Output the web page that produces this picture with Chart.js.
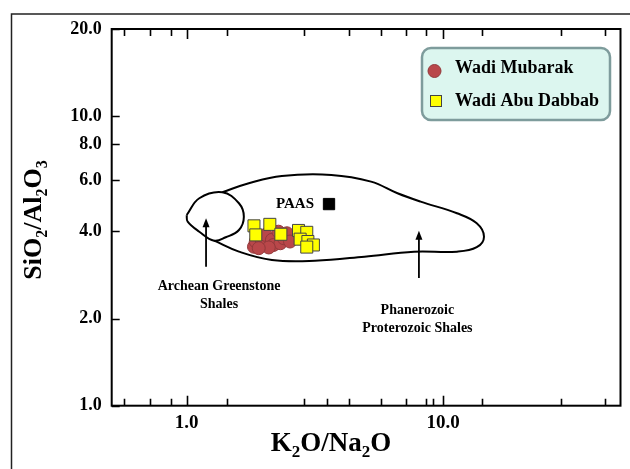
<!DOCTYPE html>
<html>
<head>
<meta charset="utf-8">
<script src="https://cdn.jsdelivr.net/npm/chart.js@4.4.1/dist/chart.umd.min.js"></script>
<style>
  body { margin: 0; background: #fff; }
  #c { display: block; }
</style>
</head>
<body>
<canvas id="c" width="630" height="469"></canvas>
<script>
// Wadi Mubarak (circles)
const mubarakX = [1.83, 1.86, 1.96, 2.03, 2.15, 2.18, 2.32, 2.39, 2.46, 2.53, 2.09, 1.91, 2.28]
const mubarakY = [3.54, 3.69, 3.74, 3.89, 3.74, 3.59, 3.64, 3.79, 3.94, 3.69, 3.52, 3.50, 3.99]
// Wadi Abu Dabbab (squares)
const dabbabX = [1.83, 1.86, 2.11, 2.33, 2.73, 2.94, 2.77, 2.97, 3.12, 2.94]
const dabbabY = [4.18, 3.89, 4.23, 3.91, 4.03, 3.97, 3.76, 3.69, 3.59, 3.53]
// PAAS
const paasX = [3.59]
const paasY = [4.97]
// Archean greenstone shales field
const archeanX = [1.000, 1.120, 1.378, 1.599, 1.671, 1.599, 1.420, 1.280, 1.120, 1.009, 1.000]
const archeanY = [4.557, 5.205, 5.459, 5.003, 4.496, 4.045, 3.817, 3.715, 3.990, 4.321, 4.557]
// Phanerozoic / Proterozoic shales field
const phanX = [1.280, 1.599, 2.150, 3.164, 4.937, 7.702, 11.33, 13.53, 14.44, 13.53, 11.33, 8.173, 6.641, 5.236, 3.667, 2.350, 1.747, 1.378]
const phanY = [3.715, 3.404, 3.186, 3.168, 3.271, 3.404, 3.404, 3.526, 3.835, 4.266, 4.619, 5.067, 5.416, 5.94, 6.265, 6.216, 5.866, 5.459]

// axes
const xLabelTicks = [1, 10]
const xTicksBottom = [0.571, 0.718, 0.865, 1, 1.44, 2.87, 3.54, 4.29, 5.72, 7.19, 8.54, 9.12, 10, 14.2, 28.8, 42.8]
const xTicksTop = [0.571, 0.718, 0.865, 1, 1.44, 2.87, 4.29, 5.72, 7.19, 8.54, 10, 14.2, 28.8, 42.8]
const yTicks = [1, 2, 4, 6, 8, 10, 20]

// field arrows and their labels
const arrowX = [1.19, 8.05]
const arrowHeadY = [4.44, 4.02]
const arrowTailY = [3.02, 2.76]
const fieldLabels = [['Archean Greenstone', 'Shales'], ['Phanerozoic', 'Proterozoic Shales']]
const fieldLabelX = [1.338, 7.94]
const fieldLabelY = [2.59, 2.14]

const SERIF = '"Liberation Serif", "Times New Roman", serif'
const pts = (xs, ys) => xs.map((v, i) => ({ x: v, y: ys[i] }))

function drawRich(ctx, parts, size, subSize) {
   // parts: [text, isSub]; drawn centered on (0,0) baseline
   let w = 0
   parts.forEach(p => {
      ctx.font = 'bold ' + (p[1] ? subSize : size) + 'px ' + SERIF
      w += ctx.measureText(p[0]).width
   })
   let x = -w / 2
   ctx.textAlign = 'left'
   ctx.textBaseline = 'alphabetic'
   parts.forEach(p => {
      ctx.font = 'bold ' + (p[1] ? subSize : size) + 'px ' + SERIF
      ctx.fillText(p[0], x, p[1] ? size * 0.22 : 0)
      x += ctx.measureText(p[0]).width
   })
}

const decor = {
   id: 'decor',
   beforeDraw(chart) {
      const ctx = chart.ctx
      ctx.save()
      ctx.fillStyle = '#fff'
      ctx.fillRect(0, 0, chart.width, chart.height)
      ctx.strokeStyle = '#222'
      ctx.lineWidth = 1.5
      ctx.beginPath()
      ctx.moveTo(11.5, chart.height)
      ctx.lineTo(11.5, 14)
      ctx.lineTo(chart.width, 14)
      ctx.stroke()
      ctx.restore()
   },
   afterDatasetsDraw(chart) {
      const ctx = chart.ctx
      const xs = chart.scales.x, ys = chart.scales.y
      const a = chart.chartArea
      ctx.save()
      // frame
      ctx.strokeStyle = '#000'
      ctx.lineWidth = 2
      ctx.strokeRect(a.left, a.top, a.right - a.left, a.bottom - a.top)
      // ticks
      ctx.lineWidth = 1.6
      ctx.beginPath()
      xTicksBottom.forEach(v => {
         const px = Math.round(xs.getPixelForValue(v)) + 0.5
         const len = (v === 1 || v === 10) ? 10 : 7
         ctx.moveTo(px, a.bottom); ctx.lineTo(px, a.bottom - len)
      })
      xTicksTop.forEach(v => {
         const px = Math.round(xs.getPixelForValue(v)) + 0.5
         const len = (v === 1 || v === 10) ? 10 : 7
         ctx.moveTo(px, a.top); ctx.lineTo(px, a.top + len)
      })
      yTicks.forEach(v => {
         const py = Math.round(ys.getPixelForValue(v)) + 0.5
         ctx.moveTo(a.left, py); ctx.lineTo(a.left + 8, py)
      })
      ctx.stroke()

      // arrows
      ctx.fillStyle = '#000'
      arrowX.forEach((v, i) => {
         const px = xs.getPixelForValue(v)
         const hy = ys.getPixelForValue(arrowHeadY[i])
         const ty = ys.getPixelForValue(arrowTailY[i])
         ctx.lineWidth = 1.8
         ctx.beginPath()
         ctx.moveTo(px, ty); ctx.lineTo(px, hy + 6)
         ctx.stroke()
         ctx.beginPath()
         ctx.moveTo(px, hy); ctx.lineTo(px - 3.5, hy + 9); ctx.lineTo(px + 3.5, hy + 9)
         ctx.closePath(); ctx.fill()
      })
      // field labels
      ctx.font = 'bold 14px ' + SERIF
      ctx.textAlign = 'center'
      ctx.textBaseline = 'middle'
      fieldLabels.forEach((lines, i) => {
         const px = xs.getPixelForValue(fieldLabelX[i])
         const py = ys.getPixelForValue(fieldLabelY[i])
         lines.forEach((t, j) => ctx.fillText(t, px, py + j * 18.5))
      })
      // PAAS label
      ctx.font = 'bold 15px ' + SERIF
      ctx.textAlign = 'right'
      ctx.fillText('PAAS', xs.getPixelForValue(paasX[0]) - 15, ys.getPixelForValue(paasY[0]))

      // legend
      const lx = 422, ly = 48, lw = 188, lh = 72
      ctx.beginPath()
      ctx.roundRect(lx, ly, lw, lh, 9)
      ctx.fillStyle = '#dcf6ef'
      ctx.fill()
      ctx.strokeStyle = '#7e9c9c'
      ctx.lineWidth = 2.5
      ctx.stroke()
      const ds = chart.data.datasets
      ctx.lineWidth = 1
      ctx.beginPath()
      ctx.arc(434.5, 71, 6.5, 0, Math.PI * 2)
      ctx.fillStyle = ds[0].backgroundColor
      ctx.fill()
      ctx.strokeStyle = ds[0].borderColor
      ctx.stroke()
      ctx.fillStyle = ds[1].backgroundColor
      ctx.fillRect(430, 95, 12, 12)
      ctx.strokeStyle = ds[1].borderColor
      ctx.strokeRect(430.5, 95.5, 11, 11)
      ctx.fillStyle = '#000'
      ctx.font = 'bold 18px ' + SERIF
      ctx.textAlign = 'left'
      ctx.textBaseline = 'middle'
      ctx.fillText(ds[0].label, 455, 68)
      ctx.fillText(ds[1].label, 455, 101)

      // axis titles
      ctx.save()
      ctx.translate(331, 451)
      drawRich(ctx, [['K', 0], ['2', 1], ['O/Na', 0], ['2', 1], ['O', 0]], 27, 17)
      ctx.restore()
      ctx.save()
      ctx.translate(41, 220)
      ctx.rotate(-Math.PI / 2)
      drawRich(ctx, [['SiO', 0], ['2', 1], ['/Al', 0], ['2', 1], ['O', 0], ['3', 1]], 26, 16)
      ctx.restore()
      ctx.restore()
   }
}

new Chart(document.getElementById('c'), {
   type: 'scatter',
   data: {
      datasets: [
         {
            label: 'Wadi Mubarak',
            data: pts(mubarakX, mubarakY),
            pointStyle: 'circle',
            pointRadius: 6.5,
            backgroundColor: '#b9474a',
            borderColor: '#93393b',
            borderWidth: 1,
            order: 1
         },
         {
            label: 'Wadi Abu Dabbab',
            data: pts(dabbabX, dabbabY),
            pointStyle: 'rect',
            pointRadius: 8.5,
            backgroundColor: '#ffff00',
            borderColor: '#444',
            borderWidth: 1,
            order: 0
         },
         {
            label: 'PAAS',
            data: pts(paasX, paasY),
            pointStyle: 'rect',
            pointRadius: 8,
            backgroundColor: '#000',
            borderColor: '#000',
            order: 0
         },
         {
            label: 'Archean',
            data: pts(archeanX, archeanY),
            showLine: true,
            tension: 0.4,
            pointRadius: 0,
            borderColor: '#000',
            borderWidth: 2,
            order: 2
         },
         {
            label: 'Phanerozoic',
            data: pts(phanX, phanY),
            showLine: true,
            tension: 0.4,
            pointRadius: 0,
            borderColor: '#000',
            borderWidth: 2,
            order: 2
         }
      ]
   },
   options: {
      responsive: false,
      animation: false,
      devicePixelRatio: 1,
      layout: { padding: { top: 29, right: 5, left: 0, bottom: 0 } },
      plugins: { legend: { display: false }, tooltip: { enabled: false } },
      scales: {
         x: {
            type: 'logarithmic',
            min: 0.51,
            max: 49.2,
            grid: { display: false, drawTicks: false },
            border: { display: false },
            afterFit: s => { s.height = 63.3 },
            afterBuildTicks: s => { s.ticks = xLabelTicks.map(v => ({ value: v })) },
            ticks: {
               autoSkip: false,
               maxRotation: 0,
               padding: 6,
               color: '#000',
               font: { family: SERIF, size: 19, weight: 'bold' },
               callback: v => v.toFixed(1)
            }
         },
         y: {
            type: 'logarithmic',
            min: 1,
            max: 20,
            grid: { display: false, drawTicks: false },
            border: { display: false },
            afterFit: s => { s.width = 111.7 },
            afterBuildTicks: s => { s.ticks = yTicks.map(v => ({ value: v })) },
            ticks: {
               autoSkip: false,
               padding: 10,
               color: '#000',
               font: { family: SERIF, size: 18, weight: 'bold' },
               callback: v => v.toFixed(1)
            }
         }
      }
   },
   plugins: [decor]
})
</script>
</body>
</html>
